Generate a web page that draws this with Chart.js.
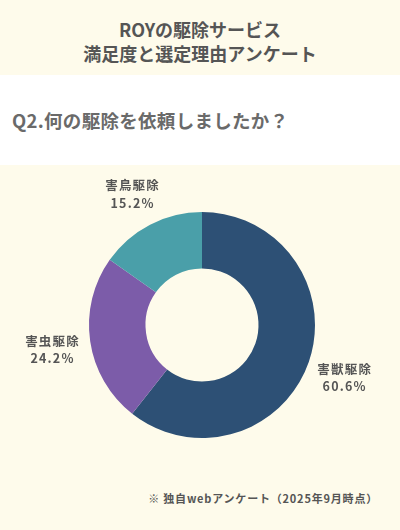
<!DOCTYPE html>
<html lang="ja">
<head>
<meta charset="utf-8">
<script src="https://cdn.jsdelivr.net/npm/chart.js@4"></script>
<style>
    html, body { margin: 0; padding: 0; }
    body {
        width: 400px;
        height: 530px;
        background: #fefbeb;
        font-family: "Noto Sans CJK JP", "Noto Sans", sans-serif;
        overflow: hidden;
        position: relative;
    }
    .header {
        height: 75px;
        background: #fefbeb;
        color: #555;
        font-weight: bold;
        font-size: 18px;
        line-height: 24px;
        text-align: center;
        padding-top: 17px;
        box-sizing: border-box;
    }
    .question {
        height: 90px;
        background: #ffffff;
        color: #6a6a6a;
        font-weight: bold;
        font-size: 18.5px;
        line-height: 90px;
        padding-left: 12px;
        letter-spacing: 0.3px;
    }
    .chart-box {
        position: absolute;
        left: 0;
        top: 165px;
        width: 400px;
        height: 320px;
    }
    .note {
        position: absolute;
        right: 22px;
        top: 490px;
        font-size: 11px;
        font-weight: bold;
        color: #555;
        letter-spacing: 0.8px;
    }
</style>
</head>
<body>
<div class="header">ROYの駆除サービス<br>満足度と選定理由アンケート</div>
<div class="question">Q2.何の駆除を依頼しましたか？</div>
<div class="chart-box"><canvas id="donut"></canvas></div>
<div class="note">※ 独自webアンケート（2025年9月時点）</div>

<script>
const categories = ['害獣駆除', '害虫駆除', '害鳥駆除'];
const shares = [60.6, 24.2, 15.2];
const sliceColors = ['#2d5075', '#7c5ca9', '#4a9fa9'];

// draws the category + percent label outside each slice
const outsideLabels = {
    id: 'outsideLabels',
    afterDatasetsDraw(chart) {
        const ctx = chart.ctx;
        const meta = chart.getDatasetMeta(0);
        ctx.save();
        ctx.fillStyle = '#555';
        ctx.font = 'bold 12.5px "Noto Sans CJK JP", sans-serif';
        ctx.textAlign = 'center';
        ctx.textBaseline = 'middle';
        ctx.letterSpacing = '1.2px';
        meta.data.forEach((arc, i) => {
            const p = arc.getProps(['x', 'y', 'startAngle', 'endAngle', 'outerRadius'], true);
            const mid = (p.startAngle + p.endAngle) / 2;
            const r = p.outerRadius + 38;
            const x = p.x + Math.cos(mid) * r;
            const y = p.y + Math.sin(mid) * r;
            ctx.fillText(categories[i], x, y - 5.5);
            ctx.fillText(shares[i].toFixed(1) + '%', x, y + 12);
        });
        ctx.restore();
    }
};

document.addEventListener('DOMContentLoaded', () => {
    const ctx = document.getElementById('donut').getContext('2d');
    new Chart(ctx, {
        type: 'doughnut',
        data: {
            labels: categories,
            datasets: [{
                data: shares,
                backgroundColor: sliceColors,
                borderWidth: 0
            }]
        },
        options: {
            responsive: true,
            maintainAspectRatio: false,
            animation: false,
            cutout: '50%',
            layout: { padding: { top: 47, bottom: 47, left: 89, right: 85 } },
            plugins: {
                legend: { display: false },
                tooltip: { enabled: false }
            }
        },
        plugins: [outsideLabels]
    });
});
</script>
</body>
</html>
